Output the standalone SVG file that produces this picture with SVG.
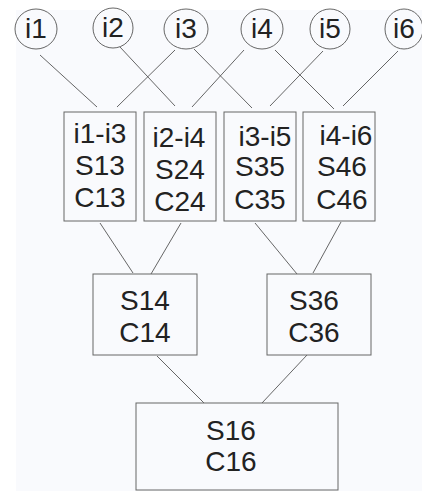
<svg xmlns="http://www.w3.org/2000/svg" width="422" height="491" viewBox="0 0 422 491">
<style>
.n ellipse, .n rect { fill: none; stroke: #666; stroke-width: 1; }
.n text { font-family: "Liberation Sans", Arial, sans-serif; font-size: 28px; fill: #222; text-anchor: middle; }
#connectors line { stroke: #555; stroke-width: 0.9; }
</style>
<rect x="0" y="0" width="422" height="491" fill="#ffffff"/>
<rect x="16" y="10" width="406" height="481" fill="#f9fafd"/>
<g id="connectors">
<line x1="40" y1="55" x2="97" y2="107"/>
<line x1="175" y1="50" x2="117" y2="107"/>
<line x1="120" y1="47" x2="175" y2="106"/>
<line x1="244" y1="50" x2="192" y2="107"/>
<line x1="194" y1="49" x2="252" y2="108"/>
<line x1="323" y1="51" x2="270" y2="106"/>
<line x1="275" y1="50" x2="334" y2="109"/>
<line x1="398" y1="51" x2="343" y2="106"/>
<line x1="100" y1="223" x2="133" y2="273"/>
<line x1="181" y1="223" x2="151" y2="274"/>
<line x1="255" y1="223" x2="297" y2="274"/>
<line x1="341" y1="222" x2="313" y2="273"/>
<line x1="157" y1="356" x2="204" y2="403"/>
<line x1="307" y1="355" x2="262" y2="403"/>
</g>
<g id="i1" class="n"><ellipse cx="36" cy="29" rx="21" ry="20"/><text x="36" y="38">i1</text></g>
<g id="i2" class="n"><ellipse cx="113" cy="28" rx="20" ry="20"/><text x="113" y="37">i2</text></g>
<g id="i3" class="n"><ellipse cx="186" cy="29" rx="22" ry="20"/><text x="186" y="38">i3</text></g>
<g id="i4" class="n"><ellipse cx="262" cy="29" rx="21" ry="20"/><text x="262" y="38">i4</text></g>
<g id="i5" class="n"><ellipse cx="330" cy="29" rx="20" ry="20"/><text x="330" y="38">i5</text></g>
<g id="i6" class="n"><ellipse cx="404" cy="29" rx="19" ry="20"/><text x="404" y="38">i6</text></g>
<g id="b13" class="n"><rect x="64" y="112" width="72" height="109"/><text x="100" y="143">i1-i3</text><text x="100" y="175">S13</text><text x="100" y="207">C13</text></g>
<g id="b24" class="n"><rect x="144" y="112" width="72" height="109"/><text x="179" y="147">i2-i4</text><text x="180" y="179">S24</text><text x="180" y="211">C24</text></g>
<g id="b35" class="n"><rect x="224" y="112" width="72" height="109"/><text x="265" y="146">i3-i5</text><text x="260" y="176">S35</text><text x="260" y="209">C35</text></g>
<g id="b46" class="n"><rect x="303" y="112" width="72" height="109"/><text x="346" y="145">i4-i6</text><text x="342" y="176">S46</text><text x="342" y="209">C46</text></g>
<g id="b14" class="n"><rect x="93" y="274" width="104" height="81"/><text x="145" y="310">S14</text><text x="145" y="342">C14</text></g>
<g id="b36" class="n"><rect x="267" y="274" width="104" height="81"/><text x="314" y="310">S36</text><text x="314" y="342">C36</text></g>
<g id="b16" class="n"><rect x="136" y="403" width="202" height="87"/><text x="231" y="440">S16</text><text x="231" y="471">C16</text></g>
</svg>
